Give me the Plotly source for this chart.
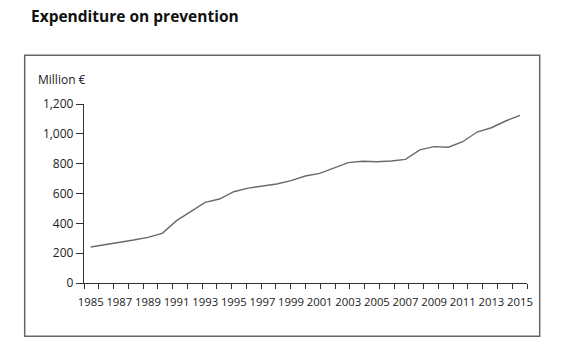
import plotly.graph_objects as go

years = list(range(1985, 2016))
expenditure = [241, 255, 273, 288, 306, 333, 418, 478, 541, 563, 612, 636, 650, 664, 686,
               717, 735, 769, 807, 816, 813, 818, 829, 892, 914, 910, 947, 1012, 1041, 1086, 1124]
y_ticks = [0, 200, 400, 600, 800, 1000, 1200]
x_label_years = list(range(1985, 2016, 2))

W, H = 573, 354
L, R = 84.3, 527.3       # plot area pixels
T, B = 104.0, 283.5
pw, ph = R - L, B - T

def px(x):
    return (x - L) / pw

def py(y):
    return (B - y) / ph

FONT = "Open Sans"
DARK = "#222222"

fig = go.Figure()
fig.add_trace(go.Scatter(x=years, y=expenditure, mode="lines",
                         line=dict(color="#6a6a6a", width=1.4), hoverinfo="skip",
                         showlegend=False))
# invisible trace for the tick-mark axis
fig.add_trace(go.Scatter(x=[0, 30], y=[0, 0], xaxis="x2", mode="lines",
                         line=dict(width=0), showlegend=False, hoverinfo="skip"))

fig.update_layout(
    width=W, height=H,
    margin=dict(l=L, r=W - R, t=T, b=H - B, pad=0),
    paper_bgcolor="white", plot_bgcolor="white",
    font=dict(family=FONT, size=12, color=DARK),
    xaxis=dict(range=[1985 - (91 - L) / 14.31, 2015 + (R - 520.3) / 14.31],
               tickvals=x_label_years, ticktext=[str(v) for v in x_label_years],
               tickangle=0,
               ticks="", showgrid=False, zeroline=False, showline=True,
               linecolor="#333333", linewidth=1.3, ticklabelstandoff=8,
               tickfont=dict(size=11.3, color=DARK)),
    xaxis2=dict(overlaying="x", anchor="y", side="bottom", range=[0, 30],
                tickvals=list(range(31)), showticklabels=False, ticks="outside",
                ticklen=5, tickwidth=1.2, tickcolor="#333333",
                showgrid=False, zeroline=False, showline=False),
    yaxis=dict(range=[0, 1200], tickvals=y_ticks, tickformat=",",
               ticks="outside", ticklen=7, tickwidth=1.2, tickcolor="#333333",
               showgrid=False, zeroline=False, showline=True,
               linecolor="#333333", linewidth=1.3,
               tickfont=dict(size=12, color=DARK)),
    shapes=[dict(type="rect", xref="paper", yref="paper",
                 x0=px(25), x1=px(540), y0=py(337), y1=py(55),
                 line=dict(color="#666666", width=1.5), layer="below")],
    annotations=[
        dict(text="<b>Expenditure on prevention</b>", xref="paper", yref="paper",
             x=px(29), y=py(3), xanchor="left", yanchor="top", showarrow=False,
             font=dict(family=FONT, size=15.5, color="#111111")),
        dict(text="Million €", xref="paper", yref="paper",
             x=px(36), y=py(79), xanchor="left", yanchor="middle", showarrow=False,
             font=dict(family=FONT, size=12, color=DARK)),
    ],
)

fig.write_html("out.html")
